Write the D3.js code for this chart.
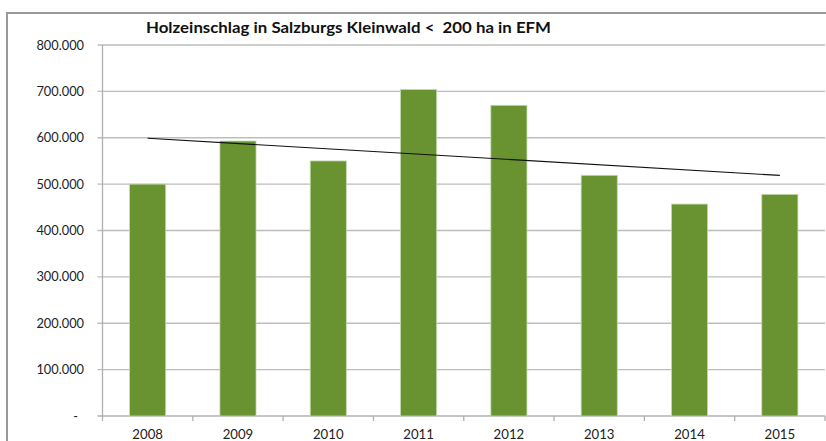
<!DOCTYPE html>
<html>
<head>
<meta charset="utf-8">
<script src="https://cdn.jsdelivr.net/npm/d3@7"></script>
<style>
  body { margin: 0; background: #fff; }
  svg { display: block; font-family: Lato, "Open Sans", sans-serif; }
</style>
</head>
<body>
<svg id="chart" width="826" height="441"></svg>
<script>
const years = ["2008", "2009", "2010", "2011", "2012", "2013", "2014", "2015"];
const harvest = [500000, 593000, 550000, 704000, 670000, 519000, 457000, 478000];
const yTicks = [0, 100000, 200000, 300000, 400000, 500000, 600000, 700000, 800000];
const title = "Holzeinschlag in Salzburgs Kleinwald <  200 ha in EFM";

const svg = d3.select("#chart");
const plotLeft = 102.5, plotRight = 825, plotTop = 45, plotBottom = 416;

// outer chart frame (runs off the picture right and bottom)
svg.append("path")
    .attr("d", "M7,445 L7,13 L830,13")
    .attr("fill", "none")
    .attr("stroke", "#9a9a9a")
    .attr("stroke-width", 2);

const x = d3.scaleBand()
    .domain(years)
    .range([plotLeft, plotRight])
    .paddingInner(0.6)
    .paddingOuter(0.3);

const y = d3.scaleLinear()
    .domain([0, 800000])
    .range([plotBottom, plotTop]);

const fmt = v => v === 0 ? "-" : d3.format(",.0f")(v).replace(/,/g, ".");

// gridlines
svg.append("g")
    .selectAll("line")
    .data(yTicks.filter(d => d > 0))
    .join("line")
    .attr("x1", plotLeft - 5)
    .attr("x2", plotRight)
    .attr("y1", d => y(d))
    .attr("y2", d => y(d))
    .attr("stroke", "#bdbdbd")
    .attr("stroke-width", 1.3);

// axes
svg.append("line")
    .attr("x1", plotLeft).attr("x2", plotLeft)
    .attr("y1", plotTop).attr("y2", plotBottom)
    .attr("stroke", "#b0b0b0").attr("stroke-width", 1.3);

svg.append("line")
    .attr("x1", plotLeft - 5).attr("x2", plotRight)
    .attr("y1", plotBottom).attr("y2", plotBottom)
    .attr("stroke", "#b0b0b0").attr("stroke-width", 1.3);

svg.append("g")
    .selectAll("text")
    .data(yTicks)
    .join("text")
    .attr("x", d => d === 0 ? 78 : 84)
    .attr("y", d => y(d) + 4.5)
    .attr("text-anchor", "end")
    .attr("font-size", 12.8)
    .attr("fill", "#222")
    .text(fmt);

// x ticks at category boundaries
const step = x.step();
const edges = years.map(d => x(d) - (step - x.bandwidth()) / 2).concat([plotRight]);
svg.append("g")
    .selectAll("line")
    .data(edges)
    .join("line")
    .attr("x1", d => d).attr("x2", d => d)
    .attr("y1", plotBottom).attr("y2", plotBottom + 5)
    .attr("stroke", "#b0b0b0").attr("stroke-width", 1.3);

svg.append("g")
    .selectAll("text")
    .data(years)
    .join("text")
    .attr("x", d => x(d) + x.bandwidth() / 2)
    .attr("y", 438.5)
    .attr("text-anchor", "middle")
    .attr("font-size", 13.2)
    .attr("fill", "#222")
    .text(d => d);

// bars
svg.append("g")
    .selectAll("rect")
    .data(years)
    .join("rect")
    .attr("x", d => x(d))
    .attr("width", x.bandwidth())
    .attr("y", (d, i) => y(harvest[i]))
    .attr("height", (d, i) => plotBottom - y(harvest[i]))
    .attr("fill", "#699231")
    .attr("stroke", "#c6d9b0")
    .attr("stroke-width", 0.8);

// linear trend line
const n = harvest.length;
const mx = d3.mean(d3.range(n));
const my = d3.mean(harvest);
const slope = d3.sum(harvest, (v, i) => (i - mx) * (v - my)) / d3.sum(d3.range(n), i => (i - mx) ** 2);
const trend = i => my + slope * (i - mx);
const cx = i => x(years[i]) + x.bandwidth() / 2;

svg.append("line")
    .attr("x1", cx(0)).attr("y1", y(trend(0)))
    .attr("x2", cx(n - 1)).attr("y2", y(trend(n - 1)))
    .attr("stroke", "#111")
    .attr("stroke-width", 1.1);

// title
svg.append("text")
    .attr("x", 146)
    .attr("y", 33)
    .attr("font-size", 14.5)
    .attr("font-weight", "bold")
    .attr("fill", "#111")
    .attr("textLength", 405)
    .attr("lengthAdjust", "spacingAndGlyphs")
    .style("white-space", "pre")
    .text(title);
</script>
</body>
</html>
